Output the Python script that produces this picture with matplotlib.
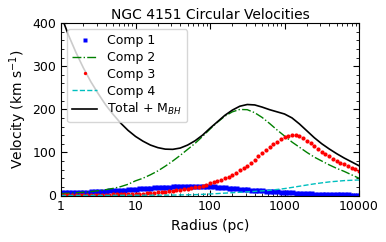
import numpy as np
import matplotlib
matplotlib.use("Agg")
import matplotlib.pyplot as plt
from matplotlib.ticker import FixedLocator, FixedFormatter, MultipleLocator

# radius grids (pc): markers every 0.05 dex, lines every 0.1 dex
r_fine = np.logspace(0, 4, 81)
r_line = np.logspace(0, 4, 41)

# Comp 1 (blue squares), km/s
comp1 = [7.0, 7.3, 7.6, 7.9, 8.2, 8.5, 8.9, 9.2, 9.6, 10.0,
         10.4, 10.8, 11.3, 11.8, 12.3, 12.8, 13.3, 13.9, 14.5, 15.1,
         15.7, 16.3, 16.9, 17.5, 18.1, 18.7, 19.3, 19.8, 20.3, 20.8,
         21.2, 21.6, 21.9, 22.1, 22.3, 22.4, 22.4, 22.3, 22.1, 21.8,
         21.4, 20.9, 20.3, 19.7, 19.0, 18.3, 17.5, 16.8, 16.0, 15.3,
         14.6, 13.9, 13.2, 12.6, 12.0, 11.4, 10.8, 10.2, 9.6, 9.0,
         8.4, 7.9, 7.3, 6.8, 6.3, 5.9, 5.4, 5.0, 4.6, 4.3,
         4.0, 3.7, 3.4, 3.2, 2.9, 2.7, 2.5, 2.4, 2.2, 2.1, 1.9]

# Comp 3 (red dots), km/s
comp3 = [1.0, 1.07, 1.14, 1.21, 1.29, 1.38, 1.47, 1.57, 1.67, 1.78,
         1.9, 2.03, 2.16, 2.3, 2.46, 2.62, 2.8, 2.98, 3.18, 3.39,
         3.6, 4.0, 4.5, 5.0, 5.6, 6.3, 7.1, 8.0, 8.9, 9.9,
         11.0, 12.2, 13.4, 14.7, 15.8, 17.5, 19.0, 20.7, 22.8, 25.2,
         28.0, 30.5, 33.3, 36.3, 39.5, 43.5, 48.0, 53.0, 58.0, 63.5,
         69.5, 76.0, 83.0, 91.0, 98.0, 105.0, 112.0, 119.0, 125.0, 131.0,
         136.0, 139.0, 140.0, 139.5, 137.0, 133.0, 127.5, 121.0, 114.5, 108.0,
         102.0, 96.0, 90.5, 85.5, 80.5, 76.0, 72.0, 68.0, 64.5, 60.5, 57.0]

# Comp 2 (green dash-dot), km/s
comp2 = [4.5, 5.3, 6.3, 7.5, 9.0, 11.0, 13.5, 16.5, 20.5, 26.0,
         34.0, 40.0, 48.0, 57.0, 68.0, 80.0, 93.0, 107.0, 121.0, 137.0,
         154.0, 170.0, 184.0, 194.0, 199.5, 199.0, 192.0, 181.0, 167.0, 152.0,
         138.0, 124.0, 112.0, 100.0, 89.0, 80.0, 71.0, 63.0, 56.0, 48.0, 40.0]

# Comp 4 (cyan dashed), km/s
comp4 = [0.1, 0.1, 0.1, 0.2, 0.2, 0.2, 0.3, 0.3, 0.4, 0.5,
         0.5, 0.6, 0.7, 0.8, 0.9, 1.0, 1.3, 1.6, 2.0, 2.7,
         3.5, 4.5, 5.5, 6.5, 7.5, 8.5, 9.5, 10.7, 12.0, 14.0,
         16.0, 18.7, 21.5, 24.3, 27.0, 29.3, 31.5, 33.0, 34.5, 35.3, 36.0]

# Total + M_BH (black), km/s
total = [418, 372, 332, 296, 264, 236, 210, 188, 168, 151,
         137, 126, 117, 111, 107.5, 107, 110, 117, 127, 140,
         156, 171, 186, 198, 207, 211, 210, 205, 199, 194,
         189, 180, 166, 150, 134, 120, 108, 97, 87, 78, 69]

xticks = [1, 10, 100, 1000, 10000]
xtick_labels = ["1", "10", "100", "1000", "10000"]
yticks = [0, 100, 200, 300, 400]

fig = plt.figure(figsize=(3.86, 2.42), dpi=100)
ax = fig.add_axes([61 / 386, 1 - 195.5 / 242, 298 / 386, 172.5 / 242])

ax.plot(r_fine, comp1, "bs", ms=3.6, mec="none", label="Comp 1")
ax.plot(r_line, comp2, "g-.", lw=1.0, label="Comp 2")
ax.plot(r_fine, comp3, "ro", ms=3.0, mec="none", label="Comp 3")
ax.plot(r_line, comp4, "c--", lw=1.0, label="Comp 4")
ax.plot(r_line, total, "k-", lw=1.2, label="Total + M$_{BH}$")

ax.set_xscale("log")
ax.set_xlim(1, 10000)
ax.set_ylim(0, 400)
ax.xaxis.set_major_locator(FixedLocator(xticks))
ax.xaxis.set_major_formatter(FixedFormatter(xtick_labels))
ax.set_yticks(yticks)
ax.yaxis.set_minor_locator(MultipleLocator(20))
ax.tick_params(which="both", direction="in", top=True, right=True, labelsize=9)
ax.tick_params(which="major", length=4)
ax.tick_params(which="minor", length=2)

ax.set_title("NGC 4151 Circular Velocities", fontsize=10, pad=3)
ax.set_xlabel("Radius (pc)", fontsize=10, labelpad=4)
ax.set_ylabel("Velocity (km s$^{-1}$)", fontsize=10, labelpad=2)

leg = ax.legend(loc="upper left", fontsize=9, numpoints=1, labelspacing=0.3,
                borderpad=0.4, handletextpad=0.8, handlelength=2.0,
                markerscale=0.8)

fig.savefig("out.png", dpi=100)
